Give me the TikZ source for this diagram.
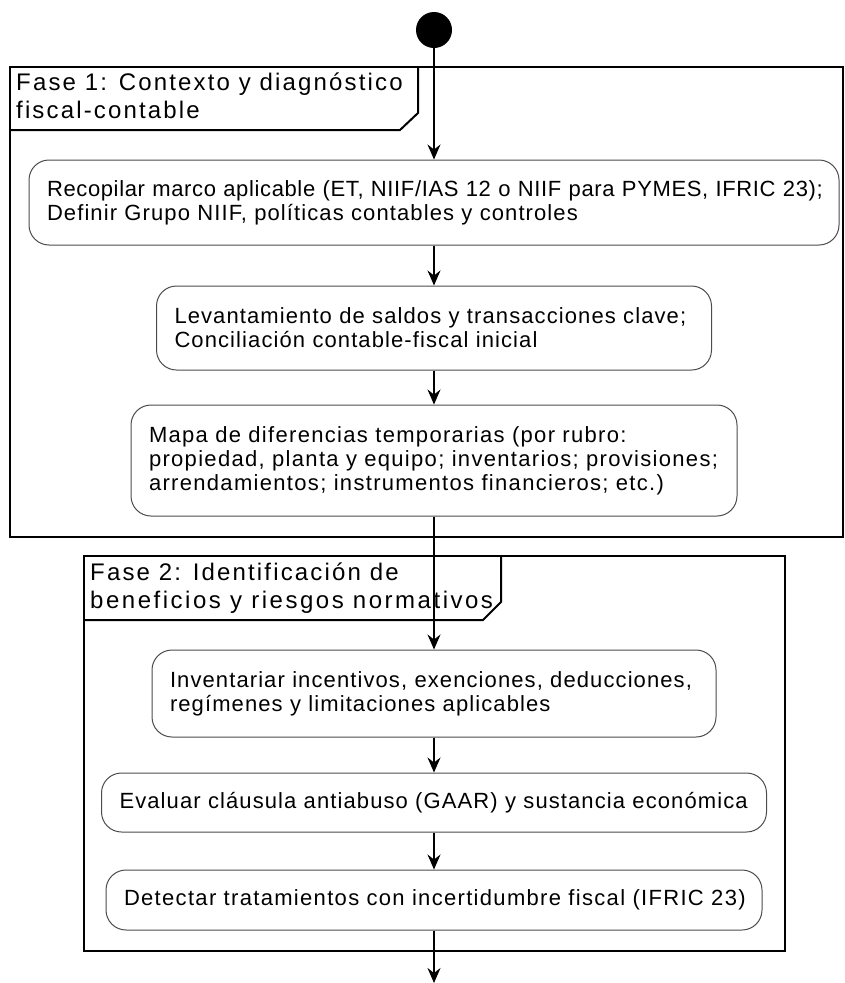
\documentclass[tikz,border=0pt]{standalone}
\usepackage{fontspec}
\setmainfont{Liberation Sans}[LetterSpace=5]
\newfontfamily\lblfont{Liberation Sans}[LetterSpace=9]
\usetikzlibrary{arrows.meta}
\tikzset{
  act/.style={draw=black!70, line width=1pt, rounded corners=20pt, align=left,
    inner xsep=18pt, inner ysep=0pt, fill=white,
    font=\fontsize{22}{24}\selectfont},
  wide/.style={font=\fontsize{22}{24}\selectfont\addfontfeature{LetterSpace=6}},
  frame/.style={draw=black, line width=2pt},
  lbl/.style={anchor=west, align=left, inner sep=0pt, font=\lblfont\fontsize{24}{28}\selectfont},
  arr/.style={draw=black, line width=1.3pt, -{Stealth[length=15pt, width=13pt, inset=5pt]}}
}
\begin{document}
\begin{tikzpicture}[x=1pt,y=-1pt]
\useasboundingbox (0,0) rectangle (844,983);
% frames
\draw[frame] (10,67) rectangle (843,537);
\draw[frame] (10,130) -- (400,130) -- (418,113) -- (418,67);
\node[lbl] (l1) at (16,96) {Fase 1: Contexto y diagnóstico\\fiscal-contable};
\draw[frame] (84,556) rectangle (785,951);
\draw[frame] (84,620) -- (483,620) -- (501,602) -- (501,556);
\node[lbl] (l2) at (90,588) {Fase 2: Identificación de\\\mbox{\addfontfeature{LetterSpace=10.5}beneficios y riesgos normativos}};
% nodes
\node[circle, fill=black, minimum size=36pt, inner sep=0pt] (start) at (434,30) {};
\node[act, text width=774pt, minimum height=85pt] (n1) at (434,202.5) {\mbox{\addfontfeature{LetterSpace=2.9}Recopilar marco aplicable (ET, NIIF/IAS 12 o NIIF para PYMES, IFRIC 23);}\\Definir Grupo NIIF, políticas contables y controles};
\node[act, text width=519pt, minimum height=84pt] (n2) at (434,328) {\mbox{Levantamiento de saldos y transacciones clave;}\\Conciliación contable-fiscal inicial};
\node[act, wide, text width=570pt, minimum height=111pt] (n3) at (434,460.5) {\mbox{Mapa de diferencias temporarias (por rubro:}\\\mbox{propiedad, planta y equipo; inventarios; provisiones;}\\\mbox{arrendamientos; instrumentos financieros; etc.)}};
\node[act, text width=528pt, minimum height=87pt] (n4) at (434,693.5) {\mbox{Inventariar incentivos, exenciones, deducciones,}\\regímenes y limitaciones aplicables};
\node[act, text width=629pt, minimum height=59pt] (n5) at (434,802.5) {\mbox{Evaluar cláusula antiabuso (GAAR) y sustancia económica}};
\node[act, wide, text width=620pt, minimum height=60pt] (n6) at (434,900) {\mbox{Detectar tratamientos con incertidumbre fiscal (IFRIC 23)}};
\coordinate (end) at (434,983);
% connectors
\draw[arr] (start) -- (n1);
\draw[arr] (n1) -- (n2);
\draw[arr] (n2) -- (n3);
\draw[arr] (n3) -- (n4);
\draw[arr] (n4) -- (n5);
\draw[arr] (n5) -- (n6);
\draw[arr] (n6) -- (end);
\end{tikzpicture}
\end{document}
